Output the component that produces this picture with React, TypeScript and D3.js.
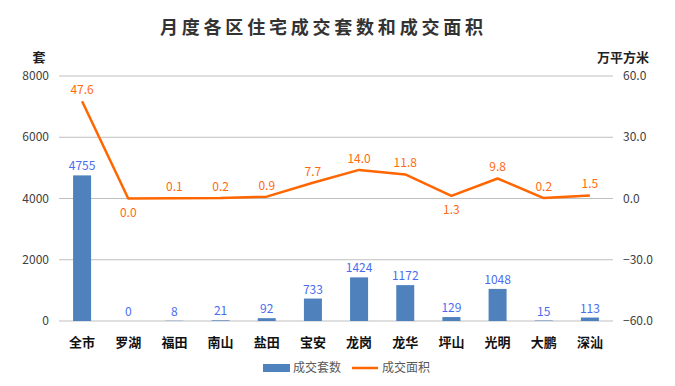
import React from 'react'
import * as d3 from 'd3'

const categories = ['全市', '罗湖', '福田', '南山', '盐田', '宝安', '龙岗', '龙华', '坪山', '光明', '大鹏', '深汕']
const units = [4755, 0, 8, 21, 92, 733, 1424, 1172, 129, 1048, 15, 113]
const area = [47.6, 0.0, 0.1, 0.2, 0.9, 7.7, 14.0, 11.8, 1.3, 9.8, 0.2, 1.5]
const leftTicks = [0, 2000, 4000, 6000, 8000]
const rightTicks = [-60, -30, 0, 30, 60]
// labels of the area line that sit under the point
const belowLabels = ['罗湖', '坪山']

const W = 675
const H = 386
const margin = { top: 76, right: 62, bottom: 65, left: 59 }
const font = '"Noto Sans CJK SC", "Microsoft YaHei", sans-serif'

export default function App() {
    const x = d3
        .scaleBand()
        .domain(categories)
        .range([margin.left, W - margin.right])
    const yL = d3.scaleLinear().domain([0, 8000]).range([H - margin.bottom, margin.top])
    const yR = d3.scaleLinear().domain([-60, 60]).range([H - margin.bottom, margin.top])
    const cx = (c: string) => (x(c) as number) + x.bandwidth() / 2
    const barW = 18

    const line = d3
        .line<number>()
        .x((d, i) => cx(categories[i]))
        .y((d) => yR(d))

    return (
        <div style={{ position: 'absolute', left: 0, top: 0 }}>
            <svg width={W} height={H} style={{ background: '#fff', fontFamily: font }}>
                <text
                    x={160}
                    y={34}
                    textAnchor="start"
                    fontSize={18}
                    fontWeight="bold"
                    textLength={323}
                    lengthAdjust="spacing"
                    fill="#333"
                >
                    月度各区住宅成交套数和成交面积
                </text>

                {/* grid */}
                {leftTicks.map((t) => (
                    <line key={t} x1={margin.left} x2={W - margin.right} y1={yL(t)} y2={yL(t)} stroke="#bfbfbf" strokeWidth={1} />
                ))}

                {/* left axis */}
                <text x={39} y={62} textAnchor="middle" fontSize={13} fontWeight="bold" fill="#222">
                    套
                </text>
                {leftTicks.map((t) => (
                    <text key={t} x={49} y={yL(t) + 4} textAnchor="end" fontSize={12} fill="#404040">
                        {t}
                    </text>
                ))}

                {/* right axis */}
                <text x={623} y={62} textAnchor="middle" fontSize={13} fontWeight="bold" fill="#222">
                    万平方米
                </text>
                {rightTicks.map((t) => (
                    <text key={t} x={623} y={yR(t) + 4} textAnchor="start" fontSize={12} fill="#404040">
                        {d3.format('.1f')(t)}
                    </text>
                ))}

                {/* bars */}
                {units.map((v, i) => (
                    <g key={categories[i]}>
                        <rect
                            x={cx(categories[i]) - barW / 2}
                            y={yL(v)}
                            width={barW}
                            height={yL(0) - yL(v)}
                            fill="#4f81bd"
                        />
                        <text x={cx(categories[i])} y={yL(v) - 5} textAnchor="middle" fontSize={12} fill="#4a6cf0">
                            {v}
                        </text>
                    </g>
                ))}

                {/* line */}
                <path d={line(area) as string} fill="none" stroke="#ff6600" strokeWidth={2.5} strokeLinejoin="round" />
                {area.map((v, i) => {
                    const below = belowLabels.includes(categories[i])
                    return (
                        <text
                            key={categories[i]}
                            x={cx(categories[i])}
                            y={below ? yR(v) + 18 : yR(v) - 7}
                            textAnchor="middle"
                            fontSize={12}
                            fill="#ff6a10"
                        >
                            {d3.format('.1f')(v)}
                        </text>
                    )
                })}

                {/* category labels */}
                {categories.map((c) => (
                    <text key={c} x={cx(c)} y={347} textAnchor="middle" fontSize={13} fontWeight="bold" fill="#111">
                        {c}
                    </text>
                ))}

                {/* legend */}
                <rect x={263} y={364} width={27} height={8} fill="#4f81bd" />
                <text x={293} y={372} fontSize={12} fill="#595959">
                    成交套数
                </text>
                <line x1={352} x2={378} y1={368} y2={368} stroke="#ff6600" strokeWidth={2.5} />
                <text x={382} y={372} fontSize={12} fill="#595959">
                    成交面积
                </text>
            </svg>
        </div>
    )
}
